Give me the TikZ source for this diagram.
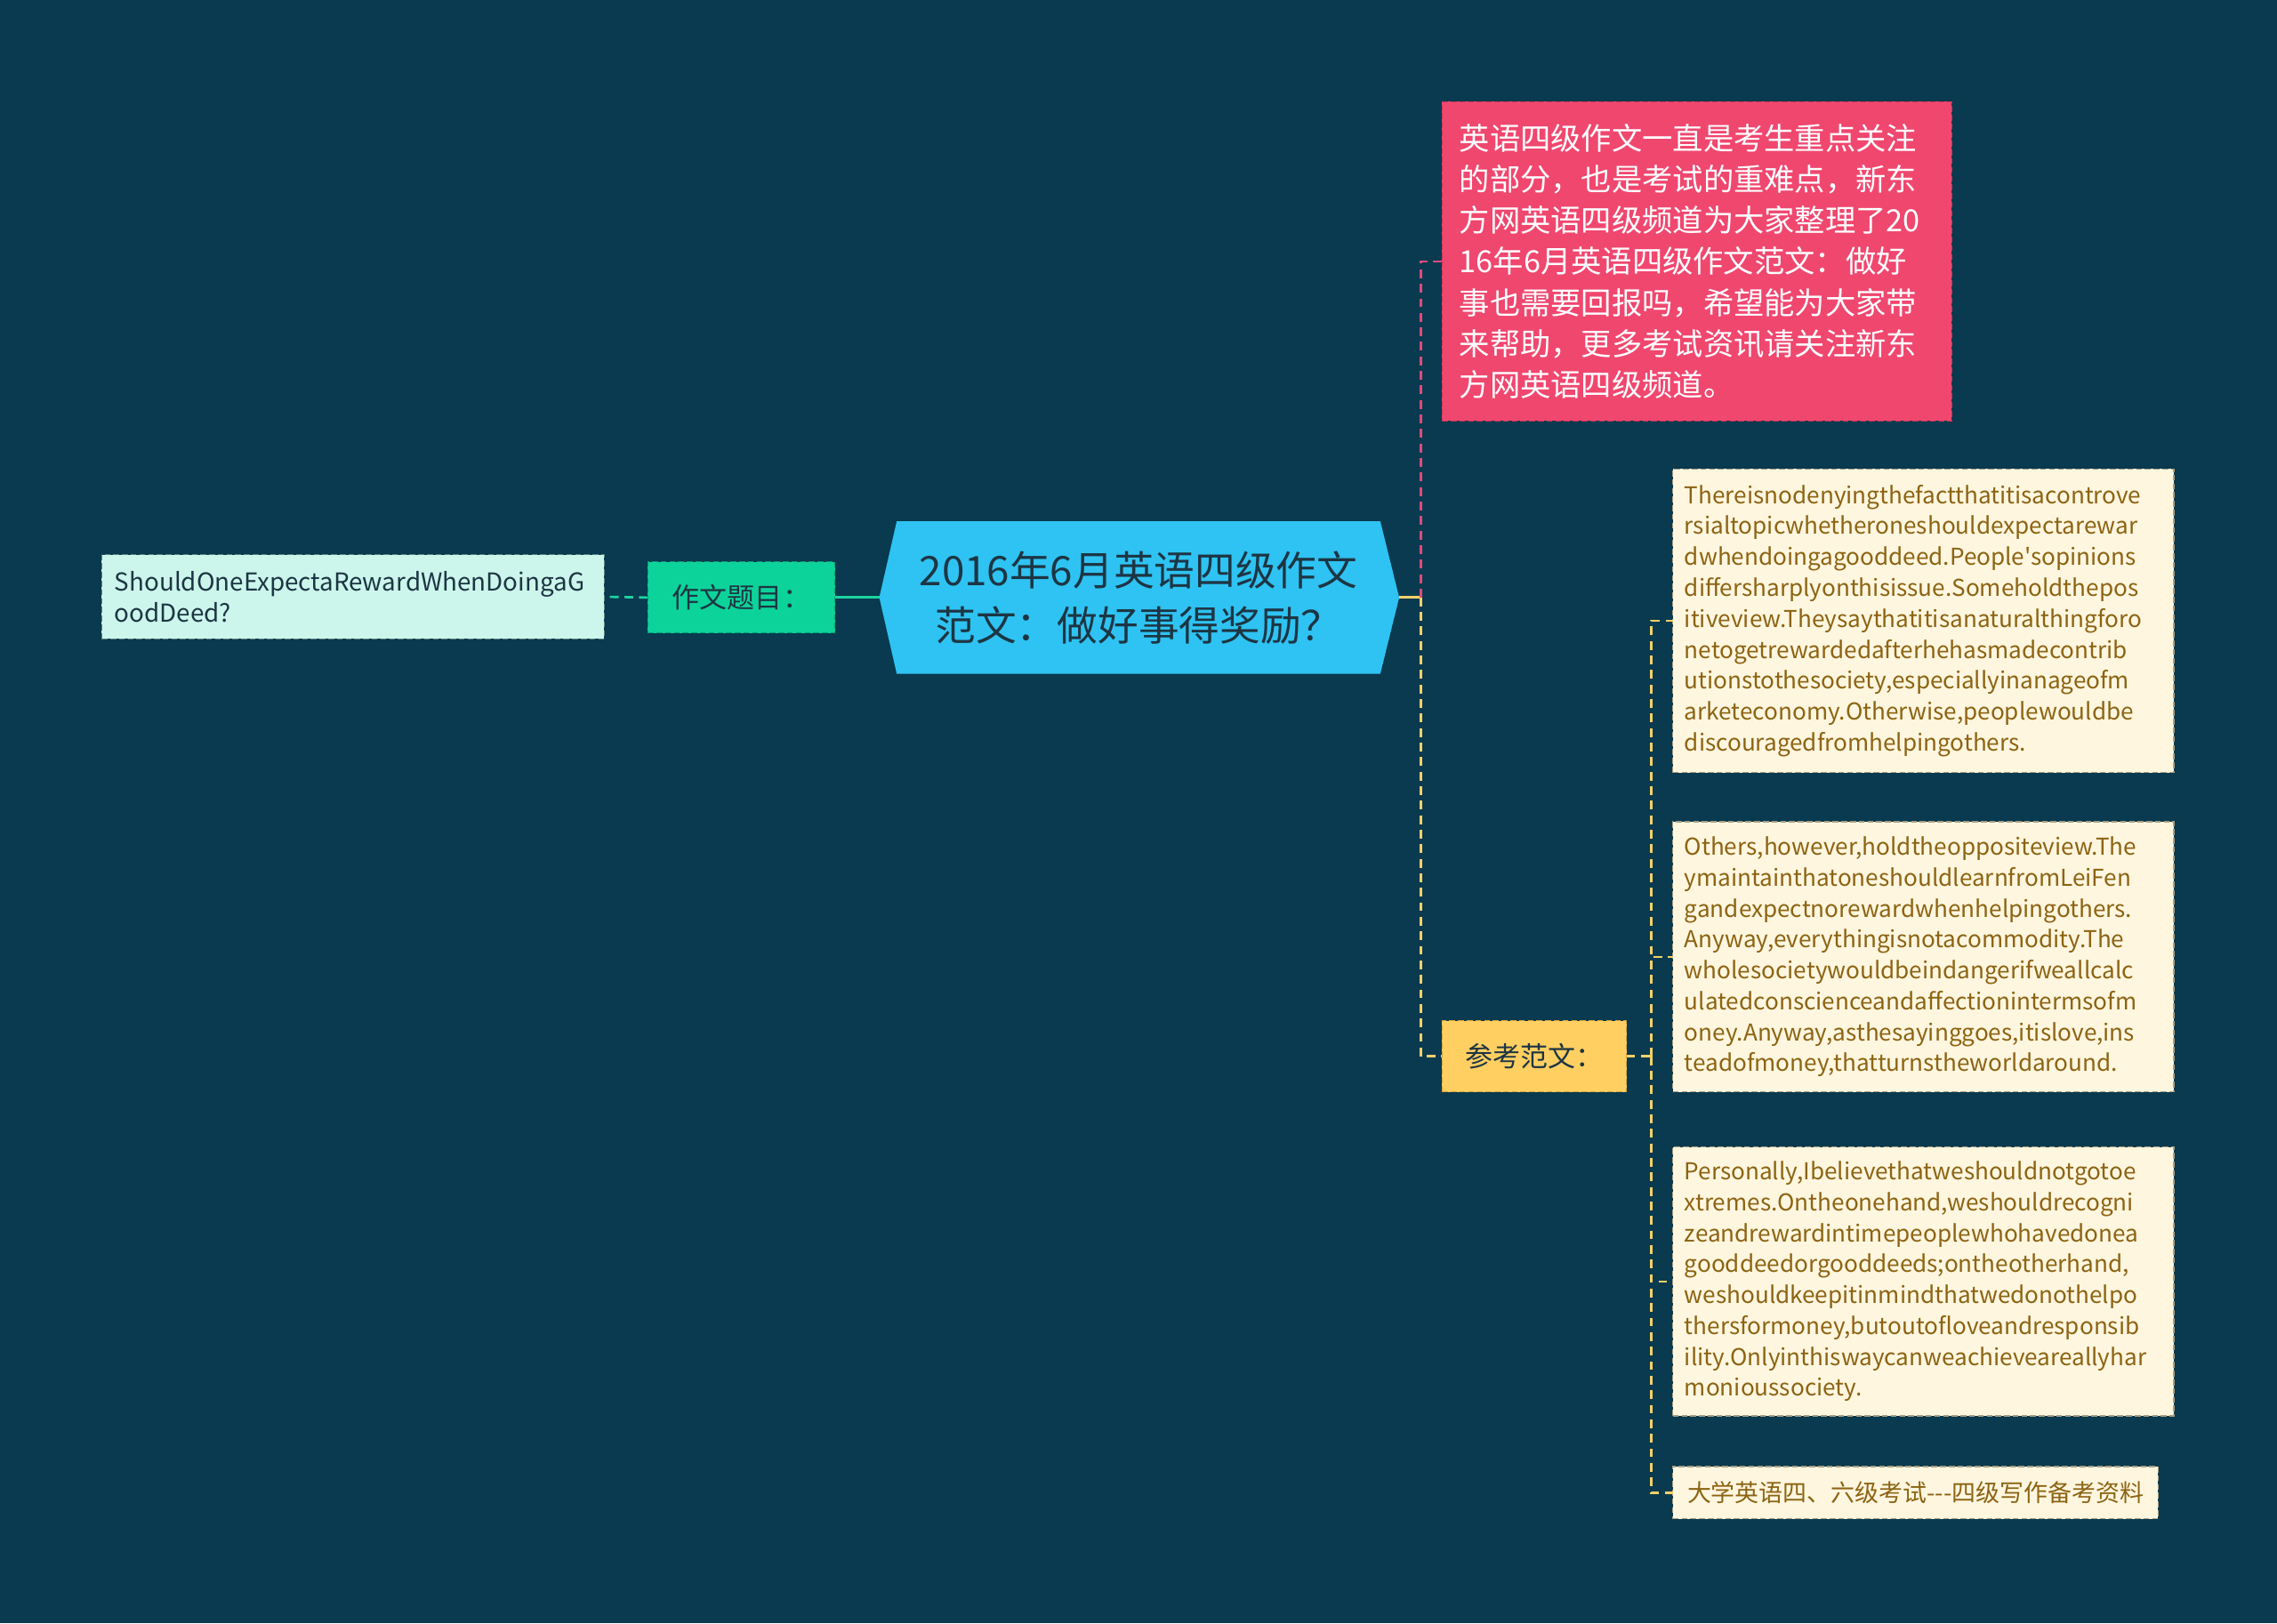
\documentclass[tikz,border=0pt]{standalone}
\usepackage{fontspec}
\setmainfont{Noto Sans CJK SC}[Ligatures=TeXOff]
\usetikzlibrary{backgrounds}
\definecolor{bgc}{HTML}{093A4F}
\definecolor{cblue}{HTML}{2EC3F2}
\definecolor{cdark}{HTML}{1D3543}
\definecolor{cgreen}{HTML}{0CD39A}
\definecolor{cgreenb}{HTML}{0A9E76}
\definecolor{cmint}{HTML}{CCF6EC}
\definecolor{cmintb}{HTML}{5F837E}
\definecolor{cpink}{HTML}{F0476F}
\definecolor{cpinkb}{HTML}{C23658}
\definecolor{cyel}{HTML}{FFCF62}
\definecolor{cyelb}{HTML}{D3A53C}
\definecolor{ccream}{HTML}{FFF6DF}
\definecolor{ccreamb}{HTML}{A99D82}
\definecolor{cbrown}{HTML}{8C6413}
\definecolor{lpink}{HTML}{E04A7A}
\definecolor{lyel}{HTML}{F3D16A}
\definecolor{lteal}{HTML}{1DD3A0}
\tikzset{
  boxbase/.style={draw, dashed, dash pattern=on 4pt off 2pt, line width=0.8pt, inner ysep=0pt, outer sep=0pt},
  pinkbox/.style={boxbase, fill=cpink, draw=cpinkb, text=white, align=left, inner xsep=12pt,
    font=\fontsize{21}{28.2}\selectfont},
  greenbox/.style={boxbase, fill=cgreen, draw=cgreenb, text=cdark, font=\fontsize{19}{24}\selectfont},
  yelbox/.style={boxbase, fill=cyel, draw=cyelb, text=cdark, font=\fontsize{19}{24}\selectfont},
  mintbox/.style={boxbase, fill=cmint, draw=cmintb, text=cdark, align=left, inner xsep=9pt,
    font=\fontsize{17}{21}\selectfont},
  creambox/.style={boxbase, fill=ccream, draw=ccreamb, text=cbrown, align=left, inner xsep=8pt,
    font=\fontsize{16}{21.3}\selectfont},
  conn/.style={line width=2pt},
  dconn/.style={line width=1.6pt, dash pattern=on 6pt off 4pt},
}
\begin{document}
\begin{tikzpicture}[x=1pt,y=-1pt]
\useasboundingbox (0,0) rectangle (1568,1118);
\begin{scope}[on background layer]
\fill[bgc] (0,0) rectangle (1568,1118);
\end{scope}

% central node
\node[minimum width=333, minimum height=105, inner sep=0pt, outer sep=0pt, align=center, text=cdark,
  font=\fontsize{28}{38}\selectfont] (c) at (784,411.5) {2016年6月英语四级作文\\范文：做好事得奖励？};
\coordinate (cl) at ([xshift=-12pt]c.west);
\coordinate (cr) at ([xshift=13pt]c.east);
\begin{scope}[on background layer]
\fill[cblue] (c.north west) -- (c.north east) -- (cr) -- (c.south east) -- (c.south west) -- (cl) -- cycle;
\end{scope}

% left side
\node[greenbox, minimum width=129, minimum height=49] (tm) at (510.5,411.5) {作文题目：};
\node[mintbox, minimum width=346, minimum height=58, text width=328] (q) at (243,411)
  {ShouldOneExpectaRewardWhenDoingaG\\oodDeed?};

% right side
\node[pinkbox, minimum width=351, minimum height=220, text width=327] (pk) at (1168.5,180)
  {英语四级作文一直是考生重点关注\\的部分，也是考试的重难点，新东\\方网英语四级频道为大家整理了20\\16年6月英语四级作文范文：做好\\事也需要回报吗，希望能为大家带\\来帮助，更多考试资讯请关注新东\\方网英语四级频道。};
\node[yelbox, minimum width=127, minimum height=49] (ck) at (1056.5,727.5) {参考范文：};

\node[creambox, minimum width=345, minimum height=209, text width=329] (b1) at (1324.5,427.5)
  {Thereisnodenyingthefactthatitisacontrove\\rsialtopicwhetheroneshouldexpectarewar\\dwhendoingagooddeed.People'sopinions\\differsharplyonthisissue.Someholdthepos\\itiveview.Theysaythatitisanaturalthingforo\\netogetrewardedafterhehasmadecontrib\\utionstothesociety,especiallyinanageofm\\arketeconomy.Otherwise,peoplewouldbe\\discouragedfromhelpingothers.};
\node[creambox, minimum width=345, minimum height=186, text width=329] (b2) at (1324.5,659)
  {Others,however,holdtheoppositeview.The\\ymaintainthatoneshouldlearnfromLeiFen\\gandexpectnorewardwhenhelpingothers.\\Anyway,everythingisnotacommodity.The\\wholesocietywouldbeindangerifweallcalc\\ulatedconscienceandaffectionintermsofm\\oney.Anyway,asthesayinggoes,itislove,ins\\teadofmoney,thatturnstheworldaround.};
\node[creambox, minimum width=345, minimum height=185, text width=329] (b3) at (1324.5,882.5)
  {Personally,Ibelievethatweshouldnotgotoe\\xtremes.Ontheonehand,weshouldrecogni\\zeandrewardintimepeoplewhohavedonea\\gooddeedorgooddeeds;ontheotherhand,\\weshouldkeepitinmindthatwedonothelpo\\thersformoney,butoutofloveandresponsib\\ility.Onlyinthiswaycanweachieveareallyhar\\monioussociety.};
\node[creambox, minimum width=334, minimum height=36, inner xsep=7pt, font=\fontsize{16.5}{20}\selectfont] (b4) at (1319,1028)
  {大学英语四、六级考试-{}-{}-四级写作备考资料};

% connectors
\draw[conn, lteal] (cl) -- (tm.east);
\draw[dconn, lteal] (tm.west) -- (q.east);
\draw[conn, lyel] (cr) -- ++(15,0) coordinate (j);
\draw[dconn, lpink] (j) |- (pk.west);
\draw[dconn, lyel] (j) |- (ck.west);
\draw[dconn, lyel] (ck.east) -- ++(17,0) coordinate (j2);
\draw[dconn, lyel] (j2) |- (b1.west);
\draw[dconn, lyel] (j2) |- (b2.west);
\draw[dconn, lyel] (j2) |- (b3.west);
\draw[dconn, lyel] (j2) |- (b4.west);
\end{tikzpicture}
\end{document}
